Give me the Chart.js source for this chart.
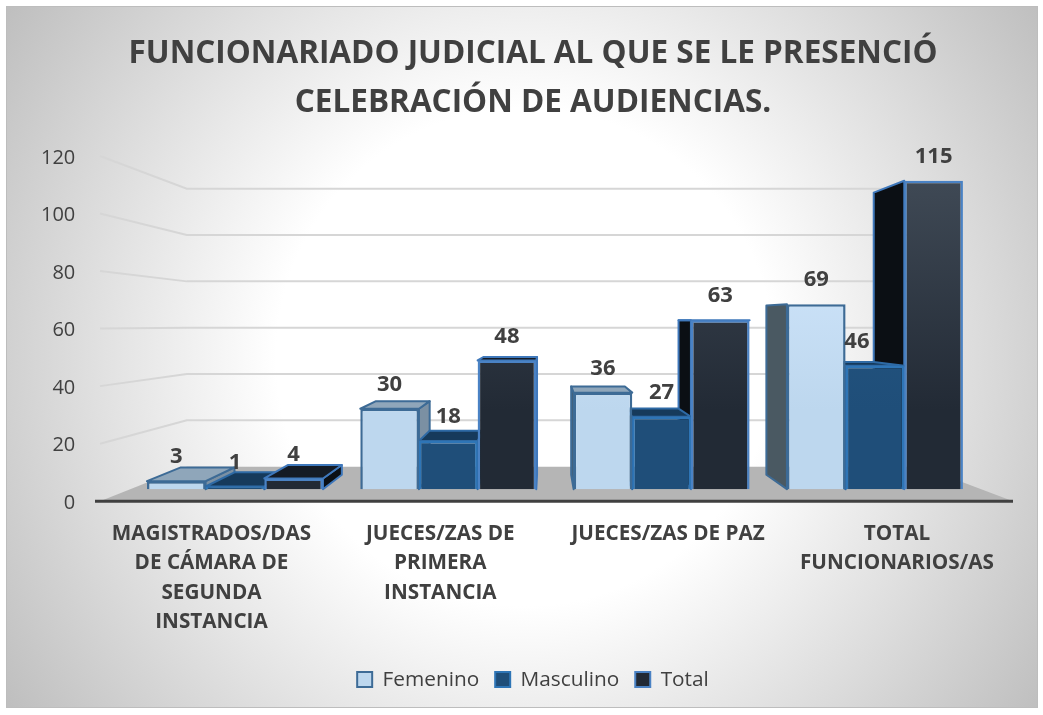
<!DOCTYPE html>
<html><head><meta charset="utf-8">
<style>html,body{margin:0;padding:0;background:#fff}canvas{display:block}</style>
<script src="https://cdn.jsdelivr.net/npm/chart.js@4"></script>
</head><body><div style="width:1043px;height:715px"><canvas id="c"></canvas></div>
<script>
const titleLines = ['FUNCIONARIADO JUDICIAL AL QUE SE LE PRESENCIÓ','CELEBRACIÓN DE AUDIENCIAS.'];
const categories = [
  ['MAGISTRADOS/DAS','DE CÁMARA DE','SEGUNDA','INSTANCIA'],
  ['JUECES/ZAS DE','PRIMERA','INSTANCIA'],
  ['JUECES/ZAS DE PAZ'],
  ['TOTAL','FUNCIONARIOS/AS']
];
const femenino = [3,30,36,69];
const masculino = [1,18,27,46];
const total = [4,48,63,115];
const seriesNames = ['Femenino','Masculino','Total'];
const categoryLabelShift = [-23.5,-8,6.5,22];

const FONT = '"Open Sans"';
const TEXT = '#404040';
const looks = [
  {solid:'#bdd7ee', hi:'#d6eaff', border:'#3d6b96', top:'#8fa6ba', side:'#7b90a3', sideFar:'#4a5962', faceBorder:'#3d6b96'},
  {solid:'#1f4e79', hi:'#275a86', border:'#2e75b6', top:'#163a5b', side:'#123048', sideFar:'#123048', faceBorder:'#2e6aa5'},
  {solid:'#222a35', hi:'#3f4955', border:'#4a82c4', top:'#141b25', side:'#0b0f14', sideFar:'#0b0f14', faceBorder:'#3f78bb'}
];
function frontFill(i){
  return ctx=>{
    const ch=ctx.chart;
    if(!ch.chartArea) return looks[i].solid;
    const g=ch.ctx.createLinearGradient(0,180,0,410);
    g.addColorStop(0,looks[i].hi); g.addColorStop(1,looks[i].solid);
    return g;
  };
}
const barV={x:545,y:320,k:0.085};
const wallV={x:545,y:324,k:0.195};
const back=(x,y,v)=>[x+(v.x-x)*v.k,y+(v.y-y)*v.k];
function poly(c,pts,fill,stroke,lw){
  c.beginPath();pts.forEach((p,i)=>i?c.lineTo(p[0],p[1]):c.moveTo(p[0],p[1]));c.closePath();
  c.fillStyle=fill;c.fill();
  if(stroke){c.strokeStyle=stroke;c.lineWidth=lw||2;c.lineJoin='round';c.stroke();}
}
const scene={
  id:'scene',
  beforeDraw(ch){
    const c=ch.ctx;
    c.save();
    c.fillStyle='#fff';c.fillRect(0,0,ch.width,ch.height);
    const g=c.createRadialGradient(525,357,0,525,357,622);
    g.addColorStop(0,'#ffffff');g.addColorStop(0.4,'#ffffff');g.addColorStop(1,'#bfbfbf');
    c.fillStyle=g;c.fillRect(7,7,1030,700);
    c.strokeStyle='#bdbdbd';c.lineWidth=1;c.strokeRect(6.5,6.5,1031,701);
    c.restore();
  },
  beforeDatasetsDraw(ch){
    const c=ch.ctx, y=ch.scales.y;
    const L=100,R=1013;
    c.save();
    // side and back gridlines
    y.ticks.forEach(t=>{
      if(t.value===0) return;
      const py=y.getPixelForValue(t.value);
      const b=back(L,py,wallV), e=back(R,py,wallV);
      c.beginPath();c.moveTo(L,py);c.lineTo(b[0],b[1]);c.lineTo(e[0],b[1]);
      c.strokeStyle='#d6d6d6';c.lineWidth=2;c.stroke();
    });
    // floor
    const y0=y.getPixelForValue(0);
    const bl=back(L,y0,wallV), br=back(R,y0,wallV);
    poly(c,[[L,y0],bl,[br[0],bl[1]],[R,y0]],'#b5b5b5');
    c.beginPath();c.moveTo(95,y0);c.lineTo(R,y0);c.strokeStyle='#404040';c.lineWidth=3;c.stroke();
    // extruded faces of each bar, taken from the bar elements
    const items=[];
    ch.data.datasets.forEach((d,di)=>ch.getDatasetMeta(di).data.forEach(b=>items.push({b,di})));
    items.sort((p,q)=>Math.abs(q.b.x-barV.x)-Math.abs(p.b.x-barV.x));
    items.forEach(({b,di})=>{
      const k=looks[di], x0=b.x-b.width/2, x1=b.x+b.width/2, yt=b.y, yb=b.base;
      const f=k.faceBorder;
      if(x1<=barV.x){
        const p=back(x1,yt,barV),q=back(x1,yb,barV);
        poly(c,[[x1,yt],p,q,[x1,yb]],k.side,f);
      }
      if(x0>=barV.x){
        const p=back(x0,yt,barV),q=back(x0,yb,barV);
        poly(c,[[x0,yt],p,q,[x0,yb]],k.sideFar,f);
      }
      if(yt>=barV.y){
        poly(c,[[x0,yt],back(x0,yt,barV),back(x1,yt,barV),[x1,yt]],k.top,f);
      }
    });
    c.restore();
  },
  afterDatasetsDraw(ch){
    const c=ch.ctx;
    c.save();
    c.font='bold 22px '+FONT;c.fillStyle=TEXT;c.textAlign='center';c.textBaseline='middle';
    ch.data.datasets.forEach((d,di)=>ch.getDatasetMeta(di).data.forEach((b,i)=>{
      const nudge=(di===1&&i===3)?-18:0;
      c.fillText(String(d.data[i]),b.x+nudge,b.y-24);
    }));
    c.restore();
  }
};
const sources=[femenino,masculino,total];
new Chart(document.getElementById('c'),{
  type:'bar',
  data:{labels:categories,datasets:seriesNames.map((n,i)=>({
    label:n,data:sources[i],yAxisID:'yBars',
    backgroundColor:frontFill(i),borderColor:looks[i].border,borderWidth:2.5,
    categoryPercentage:0.825,barPercentage:1
  }))},
  options:{
    responsive:true,maintainAspectRatio:false,animation:false,
    layout:{padding:{left:84.4,right:61.4,top:0,bottom:15}},
    scales:{
      x:{
        grid:{display:false},border:{display:false},
        afterBuildTicks(s){
          const base=Object.getPrototypeOf(s).getPixelForTick;
          s.getPixelForTick=function(i){return base.call(this,i)+categoryLabelShift[i];};
        },
        afterFit(s){s.height=152;},
        ticks:{autoSkip:false,maxRotation:0,minRotation:0,padding:10,color:TEXT,font:{family:FONT,size:20.7,weight:'bold',lineHeight:1.42}}
      },
      y:{
        min:0,max:120,
        grid:{display:false,drawTicks:false},border:{display:false},
        afterBuildTicks(s){
          const base=Object.getPrototypeOf(s).getPixelForTick;
          s.getPixelForTick=function(i){return base.call(this,i)+2;};
        },
        afterFit(s){s.width=43.9;s._computeLabelArea=()=>undefined;},
        ticks:{stepSize:20,padding:53,color:TEXT,font:{family:FONT,size:20}}
      },
      yBars:{display:false,min:-4.48,max:124.25}
    },
    plugins:{
      tooltip:{enabled:false},
      title:{display:true,text:titleLines,color:TEXT,padding:{top:30,bottom:28},
        font:{family:FONT,size:31.5,weight:'bold',lineHeight:1.555}},
      legend:{position:'bottom',labels:{
        color:TEXT,font:{family:FONT,size:20.8},boxWidth:15,boxHeight:15,padding:16,
        generateLabels:ch=>ch.data.datasets.map((d,i)=>({
          text:d.label,fillStyle:looks[i].solid,strokeStyle:looks[i].border,lineWidth:2,
          fontColor:TEXT,datasetIndex:i,hidden:false
        }))
      }}
    }
  },
  plugins:[scene]
});
</script></body></html>
